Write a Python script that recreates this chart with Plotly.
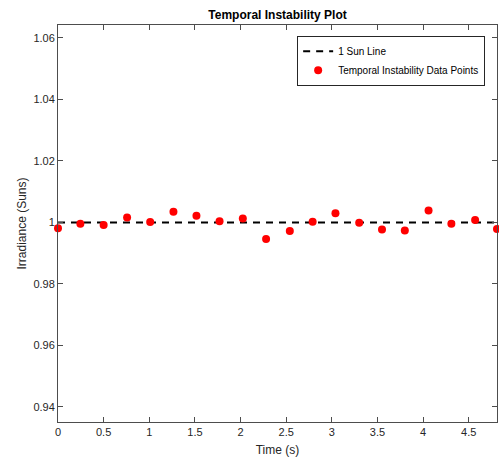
import plotly.graph_objects as go

# Data
time_s = [0.0, 0.245, 0.50, 0.757, 1.01, 1.265, 1.517, 1.77, 2.025, 2.28,
          2.54, 2.79, 3.04, 3.30, 3.55, 3.80, 4.06, 4.31, 4.57, 4.81]
irradiance = [0.9981, 0.9996, 0.9992, 1.0016, 1.0001, 1.0035, 1.0022, 1.0004, 1.0013, 0.9946,
              0.9972, 1.0002, 1.0030, 0.9999, 0.9977, 0.9974, 1.0039, 0.9996, 1.0008, 0.9979]
sun_line_x = [0.0, 4.81]
sun_line_y = [1.0, 1.0]

FONT = "Liberation Sans, Arial, sans-serif"
AXC = "#4d4d4d"

fig = go.Figure()
fig.add_trace(go.Scatter(
    x=sun_line_x, y=sun_line_y, mode="lines", name="1 Sun Line",
    line=dict(color="black", width=2, dash="7px,6px"),
))
fig.add_trace(go.Scatter(
    x=time_s, y=irradiance, mode="markers", name="Temporal Instability Data Points",
    marker=dict(color="#ff0000", size=8), cliponaxis=False,
))

fig.update_layout(
    width=499, height=457,
    margin=dict(l=58, r=2, t=25, b=35),
    paper_bgcolor="white", plot_bgcolor="white",
    font=dict(family=FONT, size=11, color="#262626"),
    title=dict(text="<b>Temporal Instability Plot</b>", x=0.5, xref="paper", xanchor="center",
               y=1 - 15 / 457, yanchor="middle", font=dict(size=12, color="black")),
    showlegend=True,
    legend=dict(x=0.973, y=0.973, xanchor="right", yanchor="top",
                bgcolor="white", bordercolor="#262626", borderwidth=1,
                font=dict(size=10, color="black"), tracegroupgap=0,
                itemwidth=30),
    xaxis=dict(range=[0, 4.81], dtick=0.5, tick0=0, ticks="inside", ticklen=5,
               tickcolor=AXC, showline=True, linecolor=AXC, linewidth=1, mirror="ticks",
               showgrid=False, zeroline=False,
               title=dict(text="Time (s)", font=dict(size=12), standoff=9)),
    yaxis=dict(range=[0.9351, 1.0642], dtick=0.02, tick0=0.94, ticks="inside", ticklen=5,
               tickcolor=AXC, showline=True, linecolor=AXC, linewidth=1, mirror="ticks",
               showgrid=False, zeroline=False,
               title=dict(text="Irradiance (Suns)", font=dict(size=12), standoff=4)),
)

fig.write_html("out.html",
               config={"displayModeBar": False},
               post_script="document.body.style.margin='0';document.body.style.overflow='hidden';")
